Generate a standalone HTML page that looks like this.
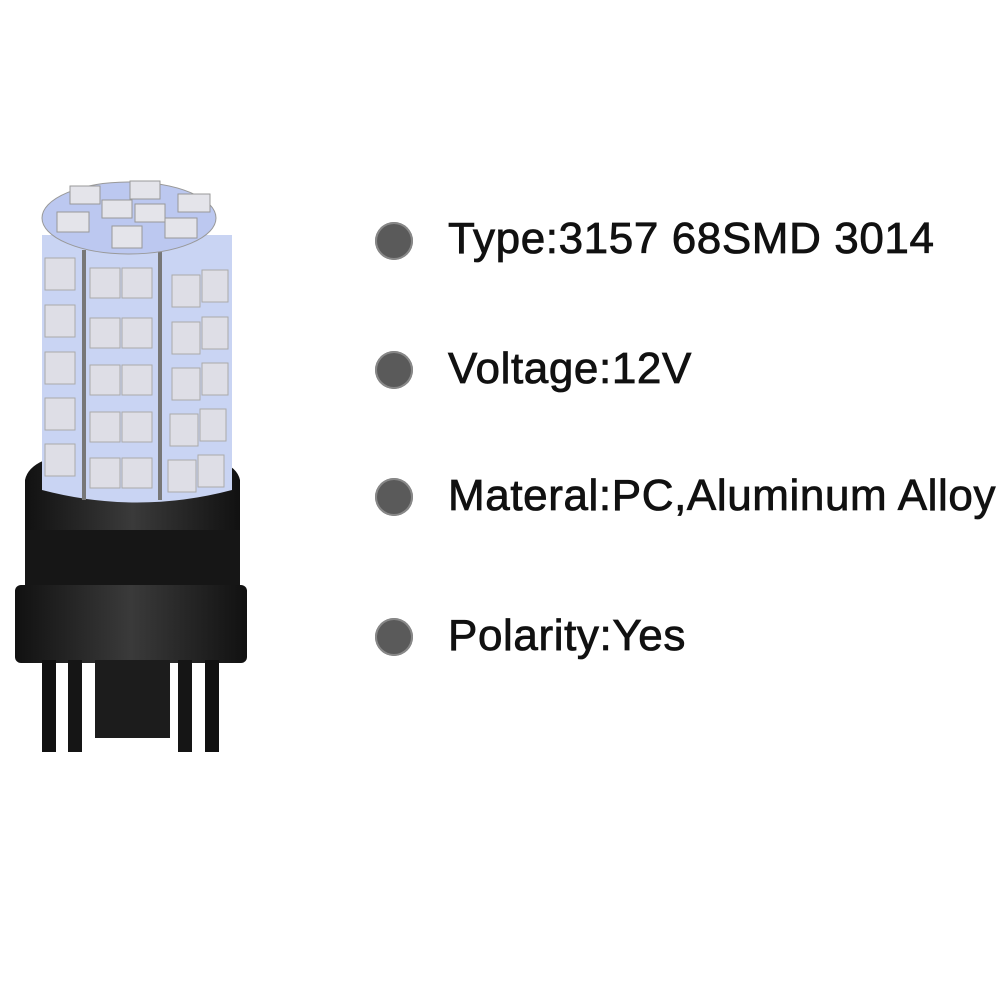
<!DOCTYPE html>
<html><head><style>
body{margin:0;background:#fff;}
.t{position:absolute;left:448px;font-family:"Liberation Sans",Arial,sans-serif;font-size:44px;letter-spacing:0.6px;color:#111;-webkit-text-stroke:0.8px #111;white-space:nowrap;}
.d{position:absolute;left:375px;width:38px;height:38px;border-radius:50%;background:#5a5a5a;box-shadow:0 0 0 2px #888 inset;}
</style></head><body>
<div style="position:relative;width:1002px;height:1002px;overflow:hidden">
<svg width="260" height="780" style="position:absolute;left:0;top:0">
 <defs>
  <linearGradient id="b" x1="0" x2="1"><stop offset="0" stop-color="#111"/><stop offset=".5" stop-color="#3a3a3a"/><stop offset="1" stop-color="#111"/></linearGradient>
 </defs>
 <path d="M25 480 Q30 455 90 452 L165 452 Q235 455 240 480 L240 540 L25 540 Z" fill="url(#b)"/>
 <path d="M42 235 L232 235 L232 490 Q137 515 42 490 Z" fill="#c9d4f3"/>
 <g fill="#dedee6" stroke="#aaa" stroke-width="1">
   <rect x="90" y="268" width="30" height="30"/><rect x="122" y="268" width="30" height="30"/>
   <rect x="90" y="318" width="30" height="30"/><rect x="122" y="318" width="30" height="30"/>
   <rect x="90" y="365" width="30" height="30"/><rect x="122" y="365" width="30" height="30"/>
   <rect x="90" y="412" width="30" height="30"/><rect x="122" y="412" width="30" height="30"/>
   <rect x="90" y="458" width="30" height="30"/><rect x="122" y="458" width="30" height="30"/>
   <rect x="45" y="258" width="30" height="32"/><rect x="45" y="305" width="30" height="32"/><rect x="45" y="352" width="30" height="32"/><rect x="45" y="398" width="30" height="32"/><rect x="45" y="444" width="30" height="32"/>
   <rect x="172" y="275" width="28" height="32"/><rect x="202" y="270" width="26" height="32"/>
   <rect x="172" y="322" width="28" height="32"/><rect x="202" y="317" width="26" height="32"/>
   <rect x="172" y="368" width="28" height="32"/><rect x="202" y="363" width="26" height="32"/>
   <rect x="170" y="414" width="28" height="32"/><rect x="200" y="409" width="26" height="32"/>
   <rect x="168" y="460" width="28" height="32"/><rect x="198" y="455" width="26" height="32"/>
 </g>
 <rect x="82" y="250" width="4" height="250" fill="#777"/>
 <rect x="158" y="250" width="4" height="250" fill="#777"/>
 <ellipse cx="129" cy="218" rx="87" ry="36" fill="#bcc8f0" stroke="#999"/>
 <g fill="#e4e4ea" stroke="#999">
  <rect x="130" y="181" width="30" height="18"/><rect x="70" y="186" width="30" height="18"/>
  <rect x="102" y="200" width="30" height="18"/><rect x="135" y="204" width="30" height="18"/>
  <rect x="178" y="194" width="32" height="18"/><rect x="57" y="212" width="32" height="20"/>
  <rect x="165" y="218" width="32" height="20"/><rect x="112" y="226" width="30" height="22"/>
 </g>
 <rect x="25" y="530" width="215" height="60" fill="#161616"/>
 <rect x="15" y="585" width="232" height="78" rx="6" fill="url(#b)"/>
 <rect x="42" y="660" width="14" height="92" fill="#111"/>
 <rect x="68" y="660" width="14" height="92" fill="#151515"/>
 <rect x="95" y="660" width="75" height="78" fill="#1c1c1c"/>
 <rect x="178" y="660" width="14" height="92" fill="#151515"/>
 <rect x="205" y="660" width="14" height="92" fill="#111"/>
</svg>
<div class="d" style="top:222px"></div><div class="t" style="top:214px">Type:3157 68SMD 3014</div>
<div class="d" style="top:351px"></div><div class="t" style="top:344px">Voltage:12V</div>
<div class="d" style="top:478px"></div><div class="t" style="top:471px">Materal:PC,Aluminum Alloy</div>
<div class="d" style="top:618px"></div><div class="t" style="top:611px">Polarity:Yes</div>
</div>
</body></html>
